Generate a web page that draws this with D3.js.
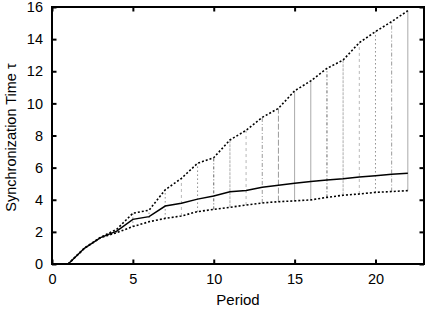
<!DOCTYPE html>
<html><head><meta charset="utf-8">
<script src="https://cdn.jsdelivr.net/npm/d3@7"></script>
<style>body{margin:0;background:#fff}svg{display:block}text{font-family:"Liberation Sans",Arial,sans-serif;fill:#000}</style>
</head><body><svg id="c" width="429" height="309"></svg>
<script>
const periods = [1,2,3,4,5,6,7,8,9,10,11,12,13,14,15,16,17,18,19,20,21,22];
const meanT = [0,0.98,1.64,2.05,2.78,2.95,3.61,3.78,4.04,4.23,4.5,4.57,4.78,4.9,5.02,5.13,5.23,5.31,5.42,5.5,5.58,5.65];
const minT  = [0,0.98,1.64,1.95,2.33,2.63,2.84,2.99,3.26,3.4,3.53,3.67,3.8,3.88,3.93,3.99,4.15,4.28,4.36,4.46,4.51,4.57];
const maxT  = [0,0.98,1.66,2.16,3.16,3.35,4.62,5.33,6.27,6.62,7.72,8.32,9.13,9.69,10.78,11.4,12.18,12.7,13.78,14.47,15.09,15.77];
const xTicks = [0,5,10,15,20];
const yTicks = [0,2,4,6,8,10,12,14,16];
const xLabel = "Period";
const yLabel = "Synchronization Time τ";

// bar styles (presentation only)
const barStyles = [
  {c:"#444", d:"1,3", w:0.9},
  {c:"#555", d:"3,2,1,2", w:0.9},
  {c:"#c4c4c4", d:"3,1", w:1.4},
  {c:"#b0b0b0", d:"3,3", w:0.9},
  {c:"#909090", d:"4,2,1,2", w:0.9},
  {c:"#909090", d:"6,2", w:0.9},
  {c:"#a0a0a0", d:null, w:0.9}
];
const barStyleOf = [0,0,0,0,0,0,0,3,0,1,2,3,4,5,6,6,1,2,3,0,4,6];

const svg = d3.select("#c");
const L=52, R=424, T=7, B=264;
const x = d3.scaleLinear().domain([0,23]).range([L,R]);
const y = d3.scaleLinear().domain([0,16]).range([B,T]);

// error bars
const bars = periods.map((p,i)=>({p, lo:minT[i], hi:maxT[i], s:barStyles[barStyleOf[i]]})).filter(d=>d.hi-d.lo>0.05);
svg.append("g").selectAll("line").data(bars).join("line")
  .attr("x1",d=>x(d.p)).attr("x2",d=>x(d.p))
  .attr("y1",d=>y(d.lo)).attr("y2",d=>y(d.hi))
  .attr("stroke",d=>d.s.c).attr("stroke-width",d=>d.s.w)
  .attr("stroke-dasharray",d=>d.s.d);

const line = (arr)=>d3.line().x((d,i)=>x(periods[i])).y(d=>y(d))(arr);
svg.append("path").attr("d",line(minT)).attr("fill","none").attr("stroke","#000").attr("stroke-width",1.6).attr("stroke-dasharray","2,2");
svg.append("path").attr("d",line(maxT)).attr("fill","none").attr("stroke","#000").attr("stroke-width",1.6).attr("stroke-dasharray","2,2");
svg.append("path").attr("d",line(meanT)).attr("fill","none").attr("stroke","#000").attr("stroke-width",1.5);

// axes (ticks inward, mirrored)
const tl=4.5;
const gB = svg.append("g").attr("transform",`translate(0,${B})`)
  .call(d3.axisBottom(x).tickValues(xTicks).tickSize(-tl).tickPadding(10).tickFormat(d3.format("d")));
const gT = svg.append("g").attr("transform",`translate(0,${T})`)
  .call(d3.axisTop(x).tickValues(xTicks).tickSize(-tl).tickFormat(""));
const gL = svg.append("g").attr("transform",`translate(${L},0)`)
  .call(d3.axisLeft(y).tickValues(yTicks).tickSize(-tl).tickPadding(9).tickFormat(d3.format("d")));
const gR = svg.append("g").attr("transform",`translate(${R},0)`)
  .call(d3.axisRight(y).tickValues(yTicks).tickSize(-tl).tickFormat(""));
[gB,gT,gL,gR].forEach(g=>{
  g.select(".domain").remove();
  g.selectAll(".tick line").attr("stroke","#000").attr("stroke-width",2);
  g.selectAll(".tick text").attr("font-size",14.5).attr("font-family",null);
});
gB.selectAll(".tick text").attr("dy","0.71em");
svg.append("rect").attr("x",L).attr("y",T).attr("width",R-L).attr("height",B-T)
  .attr("fill","none").attr("stroke","#000").attr("stroke-width",2);

svg.append("text").attr("x",(L+R)/2).attr("y",305).attr("text-anchor","middle").attr("font-size",15).text(xLabel);
svg.append("text").attr("transform",`translate(15.5,137.5) rotate(-90)`).attr("text-anchor","middle").attr("font-size",14.5).text(yLabel);
</script></body></html>
